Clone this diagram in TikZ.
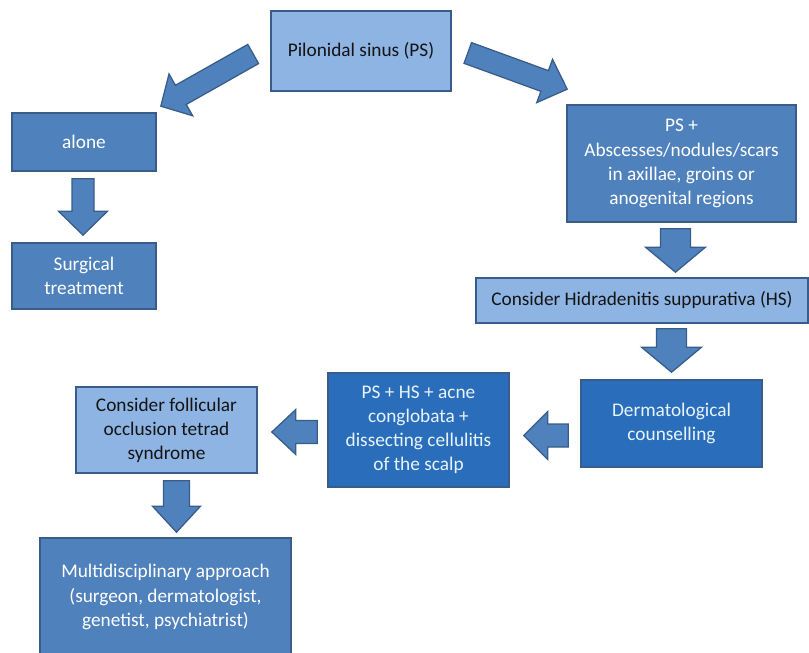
\documentclass[tikz,border=0pt]{standalone}
\usepackage{fontspec}
\setmainfont{Carlito}
\usetikzlibrary{calc}
\definecolor{lightbl}{HTML}{8EB4E3}
\definecolor{midbl}{HTML}{4F81BD}
\definecolor{darkbl}{HTML}{2A6EBB}
\definecolor{edgebl}{HTML}{385D8A}
\definecolor{paletxt}{HTML}{E8F3FB}

% one pixel of the drawing
\newcommand{\pxl}{0.622pt}
% tail, tip, half shaft, half head, head length
\newcommand{\blockarrow}[5]{%
    \coordinate (hb) at ($(#2)!#5*\pxl!(#1)$);
    \draw [barrow] ($(#1)!#3*\pxl!90:(#2)$) -- ($(hb)!#3*\pxl!-90:(#1)$) -- ($(hb)!#4*\pxl!-90:(#1)$)
        -- (#2) -- ($(hb)!#4*\pxl!90:(#1)$) -- ($(hb)!#3*\pxl!90:(#1)$) -- ($(#1)!#3*\pxl!-90:(#2)$) -- cycle;
}

\begin{document}
\begin{tikzpicture}[
            x=\pxl, y=-\pxl,
            box/.style={draw=edgebl, line width=1pt, align=center, inner sep=0pt,
                font=\fontsize{12}{15}\selectfont},
            litebox/.style={box, fill=lightbl, text=black!92},
            midbox/.style={box, fill=midbl, text=white},
            darkbox/.style={box, fill=darkbl, text=paletxt},
            sz/.style 2 args={minimum width=#1*\pxl, minimum height=#2*\pxl},
            barrow/.style={fill=midbl, draw=edgebl, line width=0.8pt, line join=miter}
        ]
            \clip (0,0) rectangle (809,653);

            \node [litebox,sz={180}{80}] (ps) at (361,51) {Pilonidal sinus (PS)};
            \node [midbox,sz={144}{58}] (alone) at (84,142) {alone};
            \node [midbox,sz={144}{66}] (surg) at (84,276) {Surgical\\treatment};
            \node [midbox,sz={229}{117}] (psplus) at (681.5,163.5) {PS +\\Abscesses/nodules/scars\\in axillae, groins or\\anogenital regions};
            \node [litebox,sz={332}{45}] (hs) at (642,300.5) {Consider Hidradenitis suppurativa (HS)};
            \node [darkbox,sz={181}{87}] (derm) at (671.5,423.5) {Dermatological\\counselling};
            \node [darkbox,sz={181}{114}] (pshs) at (418.5,430) {PS + HS + acne\\conglobata +\\dissecting cellulitis\\of the scalp};
            \node [litebox,sz={181}{86}] (foll) at (166.5,430) {Consider follicular\\occlusion tetrad\\syndrome};
            \node [midbox,sz={251}{118}] (multi) at (165.5,597) {Multidisciplinary approach\\(surgeon, dermatologist,\\genetist, psychiatrist)};

            % arrow ends
            \coordinate (a1t) at ($(ps.west)+(-17,3)$);
            \coordinate (a1h) at ($(alone.north east)+(4,-6)$);
            \coordinate (a2t) at ($(ps.east)+(16,2)$);
            \coordinate (a2h) at ($(psplus.north west)+(1,-15)$);
            \coordinate (a3t) at ($(alone.south)+(-1,7)$);
            \coordinate (a3h) at ($(surg.north)+(-1,-7)$);
            \coordinate (a4t) at ($(psplus.south)+(-6,6)$);
            \coordinate (a4h) at ($(a4t |- hs.north)+(0,-5)$);
            \coordinate (a5t) at ($(derm.north |- hs.south)+(0,5)$);
            \coordinate (a5h) at ($(derm.north)+(0,-7)$);
            \coordinate (a6t) at ($(derm.west)+(-12,12)$);
            \coordinate (a6h) at ($(pshs.east |- a6t)+(14,0)$);
            \coordinate (a7t) at ($(pshs.west)+(-10,2)$);
            \coordinate (a7h) at ($(foll.east |- a7t)+(14,0)$);
            \coordinate (a8t) at ($(foll.south)+(10,7)$);
            \coordinate (a8h) at ($(multi.north)+(11,-5)$);

            \blockarrow{a1t}{a1h}{11}{24}{23}
            \blockarrow{a2t}{a2h}{11}{23}{24}
            \blockarrow{a3t}{a3h}{11}{24.5}{24}
            \blockarrow{a4t}{a4h}{15}{30}{25}
            \blockarrow{a5t}{a5h}{15}{30}{25}
            \blockarrow{a6t}{a6h}{11.5}{24}{24}
            \blockarrow{a7t}{a7h}{11.5}{22.5}{24}
            \blockarrow{a8t}{a8h}{13}{24}{26}
        \end{tikzpicture}
\end{document}
